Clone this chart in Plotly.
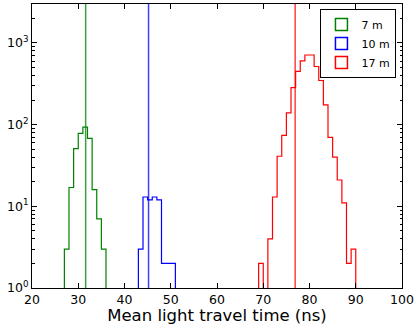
import plotly.graph_objects as go

# %% histogram counts (1 ns bins)

edges_7m = [27, 28, 29, 30, 31, 32, 33, 34, 35, 36]
counts_7m = [3, 17, 51, 78, 93, 68, 16, 7, 3]

edges_10m = [43, 44, 45, 46, 47, 48, 49, 50, 51]
counts_10m = [3, 13, 12, 13, 12, 2, 2, 2]

edges_17m = [69, 70, 71, 72, 73, 74, 75, 76, 77, 78, 79, 80, 81, 82, 83,
             84, 85, 86, 87, 88, 89, 90]
counts_17m = [2, 0, 4, 13, 41, 74, 139, 284, 450, 605, 712, 712, 515, 347,
              175, 70, 40, 21, 11, 2, 3]

means = [31.6, 45.2, 76.9]
labels = ["7 m", "10 m", "17 m"]
colors = ["#008000", "#0000ff", "#ff0000"]

# %% step outlines, zero bins go below the axis floor

FLOOR = 1e-3


def step_xy(edges, counts):
    xs = [edges[0]]
    ys = [FLOOR]
    for i, c in enumerate(counts):
        v = c if c > 0 else FLOOR
        xs += [edges[i], edges[i + 1]]
        ys += [v, v]
    xs.append(edges[-1])
    ys.append(FLOOR)
    return xs, ys


fig = go.Figure()

for edges, counts, col in zip([edges_7m, edges_10m, edges_17m],
                              [counts_7m, counts_10m, counts_17m], colors):
    xs, ys = step_xy(edges, counts)
    fig.add_trace(go.Scatter(x=xs, y=ys, mode="lines",
                             line=dict(color=col, width=1.2),
                             showlegend=False, hoverinfo="skip"))

# legend entries as outlined boxes
for lab, col in zip(labels, colors):
    fig.add_trace(go.Bar(x=[None], y=[None], name=lab,
                         marker=dict(color="white",
                                     line=dict(color=col, width=1.5))))

for m, col in zip(means, colors):
    fig.add_vline(x=m, line=dict(color=col, width=1.5), opacity=0.75)

axis_style = dict(showline=True, linecolor="black", linewidth=1, mirror="ticks",
                  ticks="inside", tickcolor="black", showgrid=False,
                  zeroline=False, tickfont=dict(family="DejaVu Sans", size=12.5,
                                                color="black"))

fig.update_xaxes(range=[20, 100], dtick=10, ticklen=5,
                 title=dict(text="Mean light travel time (ns)", standoff=3,
                            font=dict(family="DejaVu Sans", size=16.5,
                                      color="black")),
                 **axis_style)
fig.update_yaxes(type="log", range=[0, 3.477], ticklen=5,
                 tickvals=[1, 10, 100, 1000],
                 ticktext=["10<sup>0</sup>", "10<sup>1</sup>",
                           "10<sup>2</sup>", "10<sup>3</sup>"],
                 minor=dict(ticks="inside", ticklen=2.5, tickcolor="black",
                            tickvals=[a * 10 ** b for b in range(4)
                                      for a in range(2, 10)]),
                 **axis_style)

fig.update_layout(
    width=419, height=325,
    margin=dict(l=32, r=17, t=3, b=36),
    plot_bgcolor="white", paper_bgcolor="white",
    legend=dict(x=0.985, y=0.982, xanchor="right", yanchor="top",
                bordercolor="black", borderwidth=1, bgcolor="white",
                font=dict(family="DejaVu Sans", size=11, color="black"),
                tracegroupgap=0, itemwidth=30),
)

fig.write_html("out.html", config={"displayModeBar": False},
               post_script="document.body.style.margin='0';")
